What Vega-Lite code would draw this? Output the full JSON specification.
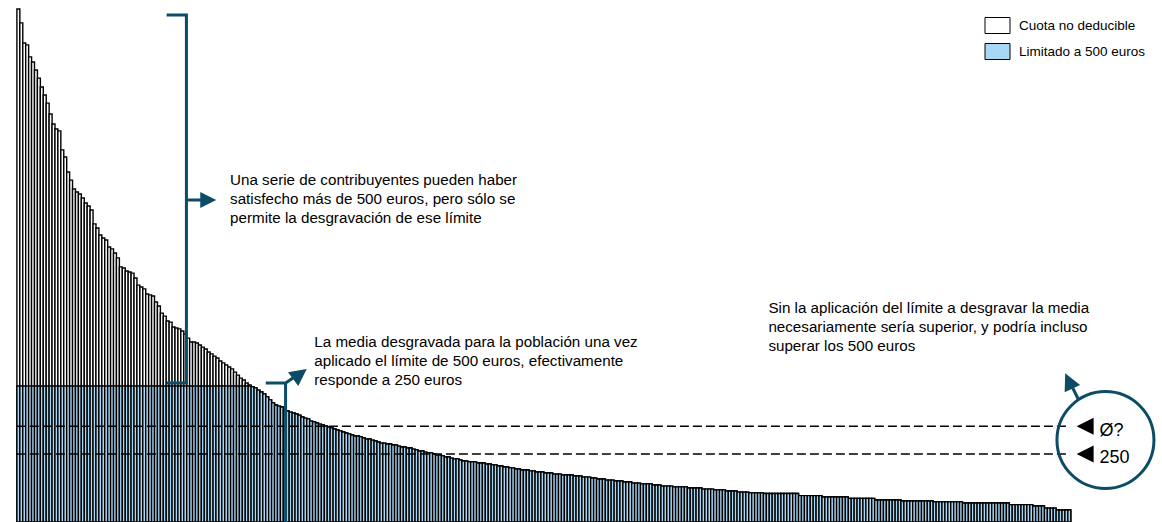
{
"$schema": "https://vega.github.io/schema/vega-lite/v6.json",
"width": 1162, "height": 522, "padding": 0, "autosize": {"type": "none"},
"background": "white",
"config": {"view": {"stroke": null}, "font": "Liberation Sans"},
"datasets": {
"barras": [
{"r":1,"cuota":1886,"lim":500},{"r":2,"cuota":1835,"lim":500},{"r":3,"cuota":1761,"lim":500},{"r":4,"cuota":1754,"lim":500},{"r":5,"cuota":1710,"lim":500},{"r":6,"cuota":1691,"lim":500},{"r":7,"cuota":1662,"lim":500},{"r":8,"cuota":1632,"lim":500},{"r":9,"cuota":1599,"lim":500},{"r":10,"cuota":1570,"lim":500},
{"r":11,"cuota":1540,"lim":500},{"r":12,"cuota":1500,"lim":500},{"r":13,"cuota":1463,"lim":500},{"r":14,"cuota":1445,"lim":500},{"r":15,"cuota":1438,"lim":500},{"r":16,"cuota":1368,"lim":500},{"r":17,"cuota":1342,"lim":500},{"r":18,"cuota":1287,"lim":500},{"r":19,"cuota":1257,"lim":500},{"r":20,"cuota":1224,"lim":500},
{"r":21,"cuota":1213,"lim":500},{"r":22,"cuota":1206,"lim":500},{"r":23,"cuota":1191,"lim":500},{"r":24,"cuota":1173,"lim":500},{"r":25,"cuota":1162,"lim":500},{"r":26,"cuota":1147,"lim":500},{"r":27,"cuota":1096,"lim":500},{"r":28,"cuota":1081,"lim":500},{"r":29,"cuota":1055,"lim":500},{"r":30,"cuota":1044,"lim":500},
{"r":31,"cuota":1037,"lim":500},{"r":32,"cuota":1011,"lim":500},{"r":33,"cuota":1004,"lim":500},{"r":34,"cuota":989,"lim":500},{"r":35,"cuota":971,"lim":500},{"r":36,"cuota":938,"lim":500},{"r":37,"cuota":934,"lim":500},{"r":38,"cuota":923,"lim":500},{"r":39,"cuota":919,"lim":500},{"r":40,"cuota":915,"lim":500},
{"r":41,"cuota":897,"lim":500},{"r":42,"cuota":871,"lim":500},{"r":43,"cuota":864,"lim":500},{"r":44,"cuota":857,"lim":500},{"r":45,"cuota":838,"lim":500},{"r":46,"cuota":835,"lim":500},{"r":47,"cuota":831,"lim":500},{"r":48,"cuota":809,"lim":500},{"r":49,"cuota":794,"lim":500},{"r":50,"cuota":768,"lim":500},
{"r":51,"cuota":757,"lim":500},{"r":52,"cuota":739,"lim":500},{"r":53,"cuota":735,"lim":500},{"r":54,"cuota":717,"lim":500},{"r":55,"cuota":713,"lim":500},{"r":56,"cuota":710,"lim":500},{"r":57,"cuota":702,"lim":500},{"r":58,"cuota":691,"lim":500},{"r":59,"cuota":676,"lim":500},{"r":60,"cuota":662,"lim":500},
{"r":61,"cuota":662,"lim":500},{"r":62,"cuota":658,"lim":500},{"r":63,"cuota":651,"lim":500},{"r":64,"cuota":643,"lim":500},{"r":65,"cuota":636,"lim":500},{"r":66,"cuota":625,"lim":500},{"r":67,"cuota":618,"lim":500},{"r":68,"cuota":610,"lim":500},{"r":69,"cuota":603,"lim":500},{"r":70,"cuota":592,"lim":500},
{"r":71,"cuota":585,"lim":500},{"r":72,"cuota":577,"lim":500},{"r":73,"cuota":570,"lim":500},{"r":74,"cuota":563,"lim":500},{"r":75,"cuota":551,"lim":500},{"r":76,"cuota":540,"lim":500},{"r":77,"cuota":529,"lim":500},{"r":78,"cuota":522,"lim":500},{"r":79,"cuota":511,"lim":500},{"r":80,"cuota":504,"lim":500},
{"r":81,"cuota":497,"lim":497},{"r":82,"cuota":493,"lim":493},{"r":83,"cuota":485,"lim":485},{"r":84,"cuota":478,"lim":478},{"r":85,"cuota":471,"lim":471},{"r":86,"cuota":460,"lim":460},{"r":87,"cuota":449,"lim":449},{"r":88,"cuota":438,"lim":438},{"r":89,"cuota":430,"lim":430},{"r":90,"cuota":426,"lim":426},
{"r":91,"cuota":423,"lim":423},{"r":92,"cuota":415,"lim":415},{"r":93,"cuota":408,"lim":408},{"r":94,"cuota":404,"lim":404},{"r":95,"cuota":401,"lim":401},{"r":96,"cuota":397,"lim":397},{"r":97,"cuota":393,"lim":393},{"r":98,"cuota":386,"lim":386},{"r":99,"cuota":382,"lim":382},{"r":100,"cuota":379,"lim":379},
{"r":101,"cuota":371,"lim":371},{"r":102,"cuota":368,"lim":368},{"r":103,"cuota":364,"lim":364},{"r":104,"cuota":360,"lim":360},{"r":105,"cuota":357,"lim":357},{"r":106,"cuota":353,"lim":353},{"r":107,"cuota":349,"lim":349},{"r":108,"cuota":346,"lim":346},{"r":109,"cuota":342,"lim":342},{"r":110,"cuota":338,"lim":338},
{"r":111,"cuota":335,"lim":335},{"r":112,"cuota":331,"lim":331},{"r":113,"cuota":327,"lim":327},{"r":114,"cuota":324,"lim":324},{"r":115,"cuota":320,"lim":320},{"r":116,"cuota":316,"lim":316},{"r":117,"cuota":316,"lim":316},{"r":118,"cuota":313,"lim":313},{"r":119,"cuota":309,"lim":309},{"r":120,"cuota":305,"lim":305},
{"r":121,"cuota":305,"lim":305},{"r":122,"cuota":301,"lim":301},{"r":123,"cuota":298,"lim":298},{"r":124,"cuota":294,"lim":294},{"r":125,"cuota":290,"lim":290},{"r":126,"cuota":290,"lim":290},{"r":127,"cuota":287,"lim":287},{"r":128,"cuota":287,"lim":287},{"r":129,"cuota":283,"lim":283},{"r":130,"cuota":283,"lim":283},
{"r":131,"cuota":279,"lim":279},{"r":132,"cuota":276,"lim":276},{"r":133,"cuota":276,"lim":276},{"r":134,"cuota":272,"lim":272},{"r":135,"cuota":272,"lim":272},{"r":136,"cuota":268,"lim":268},{"r":137,"cuota":265,"lim":265},{"r":138,"cuota":261,"lim":261},{"r":139,"cuota":261,"lim":261},{"r":140,"cuota":257,"lim":257},
{"r":141,"cuota":254,"lim":254},{"r":142,"cuota":254,"lim":254},{"r":143,"cuota":250,"lim":250},{"r":144,"cuota":246,"lim":246},{"r":145,"cuota":246,"lim":246},{"r":146,"cuota":243,"lim":243},{"r":147,"cuota":239,"lim":239},{"r":148,"cuota":239,"lim":239},{"r":149,"cuota":235,"lim":235},{"r":150,"cuota":232,"lim":232},
{"r":151,"cuota":232,"lim":232},{"r":152,"cuota":228,"lim":228},{"r":153,"cuota":224,"lim":224},{"r":154,"cuota":224,"lim":224},{"r":155,"cuota":221,"lim":221},{"r":156,"cuota":221,"lim":221},{"r":157,"cuota":221,"lim":221},{"r":158,"cuota":217,"lim":217},{"r":159,"cuota":217,"lim":217},{"r":160,"cuota":217,"lim":217},
{"r":161,"cuota":213,"lim":213},{"r":162,"cuota":213,"lim":213},{"r":163,"cuota":210,"lim":210},{"r":164,"cuota":210,"lim":210},{"r":165,"cuota":206,"lim":206},{"r":166,"cuota":206,"lim":206},{"r":167,"cuota":202,"lim":202},{"r":168,"cuota":202,"lim":202},{"r":169,"cuota":199,"lim":199},{"r":170,"cuota":199,"lim":199},
{"r":171,"cuota":195,"lim":195},{"r":172,"cuota":195,"lim":195},{"r":173,"cuota":191,"lim":191},{"r":174,"cuota":191,"lim":191},{"r":175,"cuota":191,"lim":191},{"r":176,"cuota":188,"lim":188},{"r":177,"cuota":188,"lim":188},{"r":178,"cuota":184,"lim":184},{"r":179,"cuota":184,"lim":184},{"r":180,"cuota":184,"lim":184},
{"r":181,"cuota":180,"lim":180},{"r":182,"cuota":180,"lim":180},{"r":183,"cuota":180,"lim":180},{"r":184,"cuota":176,"lim":176},{"r":185,"cuota":176,"lim":176},{"r":186,"cuota":176,"lim":176},{"r":187,"cuota":173,"lim":173},{"r":188,"cuota":173,"lim":173},{"r":189,"cuota":173,"lim":173},{"r":190,"cuota":173,"lim":173},
{"r":191,"cuota":169,"lim":169},{"r":192,"cuota":169,"lim":169},{"r":193,"cuota":169,"lim":169},{"r":194,"cuota":165,"lim":165},{"r":195,"cuota":165,"lim":165},{"r":196,"cuota":165,"lim":165},{"r":197,"cuota":162,"lim":162},{"r":198,"cuota":162,"lim":162},{"r":199,"cuota":158,"lim":158},{"r":200,"cuota":158,"lim":158},
{"r":201,"cuota":158,"lim":158},{"r":202,"cuota":154,"lim":154},{"r":203,"cuota":154,"lim":154},{"r":204,"cuota":154,"lim":154},{"r":205,"cuota":151,"lim":151},{"r":206,"cuota":151,"lim":151},{"r":207,"cuota":151,"lim":151},{"r":208,"cuota":147,"lim":147},{"r":209,"cuota":147,"lim":147},{"r":210,"cuota":147,"lim":147},
{"r":211,"cuota":143,"lim":143},{"r":212,"cuota":143,"lim":143},{"r":213,"cuota":143,"lim":143},{"r":214,"cuota":140,"lim":140},{"r":215,"cuota":140,"lim":140},{"r":216,"cuota":140,"lim":140},{"r":217,"cuota":140,"lim":140},{"r":218,"cuota":136,"lim":136},{"r":219,"cuota":136,"lim":136},{"r":220,"cuota":136,"lim":136},
{"r":221,"cuota":132,"lim":132},{"r":222,"cuota":132,"lim":132},{"r":223,"cuota":132,"lim":132},{"r":224,"cuota":132,"lim":132},{"r":225,"cuota":129,"lim":129},{"r":226,"cuota":129,"lim":129},{"r":227,"cuota":129,"lim":129},{"r":228,"cuota":129,"lim":129},{"r":229,"cuota":129,"lim":129},{"r":230,"cuota":125,"lim":125},
{"r":231,"cuota":125,"lim":125},{"r":232,"cuota":125,"lim":125},{"r":233,"cuota":125,"lim":125},{"r":234,"cuota":125,"lim":125},{"r":235,"cuota":121,"lim":121},{"r":236,"cuota":121,"lim":121},{"r":237,"cuota":121,"lim":121},{"r":238,"cuota":121,"lim":121},{"r":239,"cuota":118,"lim":118},{"r":240,"cuota":118,"lim":118},
{"r":241,"cuota":118,"lim":118},{"r":242,"cuota":118,"lim":118},{"r":243,"cuota":114,"lim":114},{"r":244,"cuota":114,"lim":114},{"r":245,"cuota":114,"lim":114},{"r":246,"cuota":114,"lim":114},{"r":247,"cuota":110,"lim":110},{"r":248,"cuota":110,"lim":110},{"r":249,"cuota":110,"lim":110},{"r":250,"cuota":110,"lim":110},
{"r":251,"cuota":107,"lim":107},{"r":252,"cuota":107,"lim":107},{"r":253,"cuota":107,"lim":107},{"r":254,"cuota":107,"lim":107},{"r":255,"cuota":107,"lim":107},{"r":256,"cuota":105,"lim":105},{"r":257,"cuota":105,"lim":105},{"r":258,"cuota":105,"lim":105},{"r":259,"cuota":105,"lim":105},{"r":260,"cuota":105,"lim":105},
{"r":261,"cuota":105,"lim":105},{"r":262,"cuota":105,"lim":105},{"r":263,"cuota":105,"lim":105},{"r":264,"cuota":105,"lim":105},{"r":265,"cuota":105,"lim":105},{"r":266,"cuota":105,"lim":105},{"r":267,"cuota":105,"lim":105},{"r":268,"cuota":97,"lim":97},{"r":269,"cuota":97,"lim":97},{"r":270,"cuota":97,"lim":97},
{"r":271,"cuota":97,"lim":97},{"r":272,"cuota":97,"lim":97},{"r":273,"cuota":97,"lim":97},{"r":274,"cuota":97,"lim":97},{"r":275,"cuota":97,"lim":97},{"r":276,"cuota":92,"lim":92},{"r":277,"cuota":92,"lim":92},{"r":278,"cuota":92,"lim":92},{"r":279,"cuota":92,"lim":92},{"r":280,"cuota":92,"lim":92},
{"r":281,"cuota":92,"lim":92},{"r":282,"cuota":92,"lim":92},{"r":283,"cuota":92,"lim":92},{"r":284,"cuota":92,"lim":92},{"r":285,"cuota":87,"lim":87},{"r":286,"cuota":87,"lim":87},{"r":287,"cuota":87,"lim":87},{"r":288,"cuota":87,"lim":87},{"r":289,"cuota":87,"lim":87},{"r":290,"cuota":87,"lim":87},
{"r":291,"cuota":87,"lim":87},{"r":292,"cuota":87,"lim":87},{"r":293,"cuota":87,"lim":87},{"r":294,"cuota":81,"lim":81},{"r":295,"cuota":81,"lim":81},{"r":296,"cuota":81,"lim":81},{"r":297,"cuota":81,"lim":81},{"r":298,"cuota":81,"lim":81},{"r":299,"cuota":81,"lim":81},{"r":300,"cuota":81,"lim":81},
{"r":301,"cuota":81,"lim":81},{"r":302,"cuota":81,"lim":81},{"r":303,"cuota":77,"lim":77},{"r":304,"cuota":77,"lim":77},{"r":305,"cuota":77,"lim":77},{"r":306,"cuota":77,"lim":77},{"r":307,"cuota":77,"lim":77},{"r":308,"cuota":77,"lim":77},{"r":309,"cuota":77,"lim":77},{"r":310,"cuota":77,"lim":77},
{"r":311,"cuota":77,"lim":77},{"r":312,"cuota":77,"lim":77},{"r":313,"cuota":77,"lim":77},{"r":314,"cuota":74,"lim":74},{"r":315,"cuota":74,"lim":74},{"r":316,"cuota":74,"lim":74},{"r":317,"cuota":74,"lim":74},{"r":318,"cuota":74,"lim":74},{"r":319,"cuota":74,"lim":74},{"r":320,"cuota":74,"lim":74},
{"r":321,"cuota":74,"lim":74},{"r":322,"cuota":74,"lim":74},{"r":323,"cuota":74,"lim":74},{"r":324,"cuota":70,"lim":70},{"r":325,"cuota":70,"lim":70},{"r":326,"cuota":70,"lim":70},{"r":327,"cuota":70,"lim":70},{"r":328,"cuota":70,"lim":70},{"r":329,"cuota":70,"lim":70},{"r":330,"cuota":70,"lim":70},
{"r":331,"cuota":70,"lim":70},{"r":332,"cuota":70,"lim":70},{"r":333,"cuota":70,"lim":70},{"r":334,"cuota":70,"lim":70},{"r":335,"cuota":70,"lim":70},{"r":336,"cuota":70,"lim":70},{"r":337,"cuota":70,"lim":70},{"r":338,"cuota":70,"lim":70},{"r":339,"cuota":70,"lim":70},{"r":340,"cuota":64,"lim":64},
{"r":341,"cuota":64,"lim":64},{"r":342,"cuota":64,"lim":64},{"r":343,"cuota":64,"lim":64},{"r":344,"cuota":64,"lim":64},{"r":345,"cuota":64,"lim":64},{"r":346,"cuota":64,"lim":64},{"r":347,"cuota":64,"lim":64},{"r":348,"cuota":59,"lim":59},{"r":349,"cuota":59,"lim":59},{"r":350,"cuota":59,"lim":59},
{"r":351,"cuota":59,"lim":59},{"r":352,"cuota":51,"lim":51},{"r":353,"cuota":51,"lim":51},{"r":354,"cuota":51,"lim":51},{"r":355,"cuota":51,"lim":51},{"r":356,"cuota":44,"lim":44},{"r":357,"cuota":44,"lim":44},{"r":358,"cuota":44,"lim":44},{"r":359,"cuota":44,"lim":44},{"r":360,"cuota":44,"lim":44}
],
"medias": [{"x1":0.49,"x2":360.15,"y":352,"etiqueta":"Ø?"},{"x1":0.49,"x2":360.15,"y":250,"etiqueta":"250"}],
"guias": [
{"g":"b1","o":1,"x":51.63,"y":1864},{"g":"b1","o":2,"x":58.40,"y":1864},{"g":"b1","o":3,"x":58.40,"y":511},{"g":"b1","o":4,"x":51.63,"y":511},
{"g":"a1","o":1,"x":58.40,"y":1183.8},{"g":"a1","o":2,"x":63.48,"y":1183.8},
{"g":"b2","o":1,"x":85.50,"y":511},{"g":"b2","o":2,"x":92.27,"y":511},{"g":"b2","o":3,"x":95.32,"y":533.1},
{"g":"b3","o":1,"x":92.27,"y":511},{"g":"b3","o":2,"x":92.27,"y":0},
{"g":"a3","o":1,"x":363.20,"y":448.5},{"g":"a3","o":2,"x":361.17,"y":492.6}
],
"notas": [
{"x":73.30,"y":1239,"t":["Una serie de contribuyentes pueden haber","satisfecho más de 500 euros, pero sólo se","permite la desgravación de ese límite"]},
{"x":102.09,"y":644.5,"t":["La media desgravada para la población una vez","aplicado el límite de 500 euros, efectivamente","responde a 250 euros"]},
{"x":257.20,"y":768.4,"t":["Sin la aplicación del límite a desgravar la media","necesariamente sería superior, y podría incluso","superar los 500 euros"]}
]
},
"layer": [
{"data": {"name": "barras"},
 "mark": {"type": "bar", "orient": "vertical", "width": 2.953, "stroke": "black", "strokeWidth": 1.4},
 "encoding": {
  "x": {"field": "r", "type": "quantitative", "scale": {"domain": [-3.572, 389.95], "nice": false, "zero": false}, "axis": null},
  "y": {"field": "cuota", "type": "quantitative", "scale": {"domain": [0, 1919.1], "nice": false}, "axis": null},
  "color": {"datum": "Cuota no deducible", "type": "nominal",
   "scale": {"domain": ["Cuota no deducible", "Limitado a 500 euros"], "range": ["#ffffff", "#a9d8f5"]},
   "legend": {"title": null, "orient": "none", "direction": "vertical", "legendX": 989, "legendY": 17, "padding": 0,
    "symbolType": "M-1.5625,-1H1.5625V1H-1.5625Z", "symbolSize": 256, "symbolStrokeColor": "black", "symbolStrokeWidth": 1,
    "symbolOpacity": 1, "labelFont": "Liberation Sans", "labelFontSize": 13.5, "labelColor": "black", "labelOffset": 13, "rowPadding": 5}}
 }},
{"data": {"name": "barras"},
 "mark": {"type": "bar", "orient": "vertical", "width": 2.953, "stroke": "black", "strokeWidth": 1.4},
 "encoding": {
  "x": {"field": "r", "type": "quantitative", "scale": {"domain": [-3.572, 389.95], "nice": false, "zero": false}, "axis": null},
  "y": {"field": "lim", "type": "quantitative", "scale": {"domain": [0, 1919.1], "nice": false}, "axis": null},
  "color": {"datum": "Limitado a 500 euros", "type": "nominal"}
 }},
{"data": {"name": "medias"},
 "mark": {"type": "rule", "color": "black", "strokeWidth": 1.3, "strokeDash": [9, 4]},
 "encoding": {
  "x": {"field": "x1", "type": "quantitative", "scale": {"domain": [-3.572, 389.95], "nice": false, "zero": false}, "axis": null},
  "x2": {"field": "x2"},
  "y": {"field": "y", "type": "quantitative", "scale": {"domain": [0, 1919.1], "nice": false}, "axis": null}
 }},
{"data": {"values": [{"x": 365.40, "y": 352}, {"x": 365.40, "y": 250}]},
 "mark": {"type": "point", "shape": "M1,-1L1,1L-1,0Z", "size": 289, "filled": true, "fill": "black", "opacity": 1, "strokeWidth": 0},
 "encoding": {
  "x": {"field": "x", "type": "quantitative", "scale": {"domain": [-3.572, 389.95], "nice": false, "zero": false}, "axis": null},
  "y": {"field": "y", "type": "quantitative", "scale": {"domain": [0, 1919.1], "nice": false}, "axis": null}
 }},
{"data": {"values": [{"x": 370.31, "y": 316.2, "t": "Ø?"}, {"x": 370.31, "y": 215.1, "t": "250"}]},
 "mark": {"type": "text", "align": "left", "baseline": "alphabetic", "fontSize": 18, "font": "Liberation Sans", "color": "black"},
 "encoding": {
  "x": {"field": "x", "type": "quantitative", "scale": {"domain": [-3.572, 389.95], "nice": false, "zero": false}, "axis": null},
  "y": {"field": "y", "type": "quantitative", "scale": {"domain": [0, 1919.1], "nice": false}, "axis": null},
  "text": {"field": "t", "type": "nominal"}
 }},
{"data": {"values": [{"x": 372.34, "y": 301.5}]},
 "mark": {"type": "point", "shape": "circle", "size": 9409, "filled": false, "stroke": "#0d4c66", "strokeWidth": 3, "opacity": 1},
 "encoding": {
  "x": {"field": "x", "type": "quantitative", "scale": {"domain": [-3.572, 389.95], "nice": false, "zero": false}, "axis": null},
  "y": {"field": "y", "type": "quantitative", "scale": {"domain": [0, 1919.1], "nice": false}, "axis": null}
 }},
{"data": {"name": "guias"},
 "mark": {"type": "line", "stroke": "#0d4c66", "strokeWidth": 3, "strokeJoin": "miter", "strokeCap": "butt"},
 "encoding": {
  "x": {"field": "x", "type": "quantitative", "scale": {"domain": [-3.572, 389.95], "nice": false, "zero": false}, "axis": null},
  "y": {"field": "y", "type": "quantitative", "scale": {"domain": [0, 1919.1], "nice": false}, "axis": null},
  "detail": {"field": "g", "type": "nominal"},
  "order": {"field": "o", "type": "quantitative"}
 }},
{"data": {"values": [{"x": 65.85, "y": 1183.8}]},
 "mark": {"type": "point", "shape": "M-1,-1L1,0L-1,1Z", "size": 256, "filled": true, "fill": "#0d4c66", "opacity": 1, "strokeWidth": 0, "angle": 0},
 "encoding": {
  "x": {"field": "x", "type": "quantitative", "scale": {"domain": [-3.572, 389.95], "nice": false, "zero": false}, "axis": null},
  "y": {"field": "y", "type": "quantitative", "scale": {"domain": [0, 1919.1], "nice": false}, "axis": null}
 }},
{"data": {"values": [{"x": 97.18, "y": 544.1}]},
 "mark": {"type": "point", "shape": "M-1,-1L1,0L-1,1Z", "size": 289, "filled": true, "fill": "#0d4c66", "opacity": 1, "strokeWidth": 0, "angle": -37},
 "encoding": {
  "x": {"field": "x", "type": "quantitative", "scale": {"domain": [-3.572, 389.95], "nice": false, "zero": false}, "axis": null},
  "y": {"field": "y", "type": "quantitative", "scale": {"domain": [0, 1919.1], "nice": false}, "axis": null}
 }},
{"data": {"values": [{"x": 359.81, "y": 518.4}]},
 "mark": {"type": "point", "shape": "M-1,-1L1,0L-1,1Z", "size": 289, "filled": true, "fill": "#0d4c66", "opacity": 1, "strokeWidth": 0, "angle": -115},
 "encoding": {
  "x": {"field": "x", "type": "quantitative", "scale": {"domain": [-3.572, 389.95], "nice": false, "zero": false}, "axis": null},
  "y": {"field": "y", "type": "quantitative", "scale": {"domain": [0, 1919.1], "nice": false}, "axis": null}
 }},
{"data": {"name": "notas"},
 "mark": {"type": "text", "align": "left", "baseline": "alphabetic", "fontSize": 15.2, "lineHeight": 19, "font": "Liberation Sans", "color": "black"},
 "encoding": {
  "x": {"field": "x", "type": "quantitative", "scale": {"domain": [-3.572, 389.95], "nice": false, "zero": false}, "axis": null},
  "y": {"field": "y", "type": "quantitative", "scale": {"domain": [0, 1919.1], "nice": false}, "axis": null},
  "text": {"field": "t", "type": "nominal"}
 }}
]
}
